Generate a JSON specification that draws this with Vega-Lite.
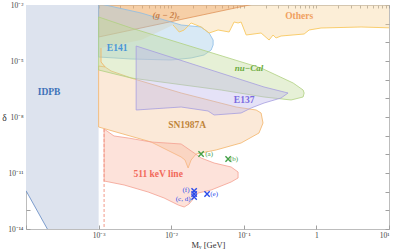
{
  "$schema": "https://vega.github.io/schema/vega-lite/v6.json",
  "width": 363,
  "height": 224,
  "autosize": {"type": "none"},
  "padding": {"left": 26, "top": 5, "right": 8, "bottom": 21},
  "background": "white",
  "config": {
    "view": {"stroke": "#bdbdbd", "strokeWidth": 1},
    "axis": {"domain": false, "grid": false, "labelFont": "Liberation Serif", "labelFontSize": 7.5, "labelColor": "#444444", "tickColor": "#a0a0a0", "titleFont": "Liberation Serif", "titleColor": "#333333", "titleFontWeight": "normal"}
  },
  "datasets": {
    "idpb": [
      {"i": 0, "M": 0.0001, "d": 0.015}, {"i": 1, "M": 0.001, "d": 0.015}, {"i": 2, "M": 0.001, "d": 1e-15},
      {"i": 3, "M": 0.000274, "d": 1e-15}, {"i": 4, "M": 0.0001, "d": 1.13e-12}, {"i": 5, "M": 0.0001, "d": 0.015}
    ],
    "regions": [
      {"region": "Others", "i": 0, "M": 0.001, "d": 0.015},
      {"region": "Others", "i": 1, "M": 12, "d": 0.015},
      {"region": "Others", "i": 2, "M": 12, "d": 5.86e-4},
      {"region": "Others", "i": 3, "M": 4.13, "d": 6.63e-4},
      {"region": "Others", "i": 4, "M": 1.16, "d": 5.86e-4},
      {"region": "Others", "i": 5, "M": 0.794, "d": 4.58e-4},
      {"region": "Others", "i": 6, "M": 0.678, "d": 2.79e-4},
      {"region": "Others", "i": 7, "M": 0.326, "d": 2.18e-4},
      {"region": "Others", "i": 8, "M": 0.278, "d": 1.71e-4},
      {"region": "Others", "i": 9, "M": 0.253, "d": 2.47e-4},
      {"region": "Others", "i": 10, "M": 0.223, "d": 1.33e-4},
      {"region": "Others", "i": 11, "M": 0.173, "d": 3.16e-4},
      {"region": "Others", "i": 12, "M": 0.108, "d": 2.47e-4},
      {"region": "Others", "i": 13, "M": 0.0918, "d": 1.23e-3},
      {"region": "Others", "i": 14, "M": 0.0834, "d": 1.09e-3},
      {"region": "Others", "i": 15, "M": 0.0735, "d": 1.23e-3},
      {"region": "Others", "i": 16, "M": 0.0628, "d": 3.58e-4},
      {"region": "Others", "i": 17, "M": 0.0442, "d": 4.58e-4},
      {"region": "Others", "i": 18, "M": 0.0333, "d": 3.16e-4},
      {"region": "Others", "i": 19, "M": 0.0258, "d": 6.63e-4},
      {"region": "Others", "i": 20, "M": 0.0188, "d": 1.09e-3},
      {"region": "Others", "i": 21, "M": 0.0151, "d": 4.58e-4},
      {"region": "Others", "i": 22, "M": 0.0129, "d": 3.58e-4},
      {"region": "Others", "i": 23, "M": 0.0106, "d": 8.49e-4},
      {"region": "Others", "i": 24, "M": 0.00385, "d": 1.33e-4},
      {"region": "Others", "i": 25, "M": 0.00108, "d": 4.97e-5},
      {"region": "Others", "i": 26, "M": 0.00108, "d": 8.83e-6},
      {"region": "Others", "i": 27, "M": 0.00123, "d": 4.77e-6},
      {"region": "Others", "i": 28, "M": 0.001, "d": 4.77e-6},
      {"region": "Others", "i": 29, "M": 0.001, "d": 0.015},

      {"region": "SN1987A", "i": 0, "M": 0.001, "d": 5.4e-6},
      {"region": "SN1987A", "i": 1, "M": 0.00123, "d": 4.77e-6},
      {"region": "SN1987A", "i": 2, "M": 0.00149, "d": 2.91e-6},
      {"region": "SN1987A", "i": 3, "M": 0.00308, "d": 1.09e-6},
      {"region": "SN1987A", "i": 4, "M": 0.0137, "d": 1.93e-7},
      {"region": "SN1987A", "i": 5, "M": 0.0783, "d": 3.43e-8},
      {"region": "SN1987A", "i": 6, "M": 0.148, "d": 2.37e-8},
      {"region": "SN1987A", "i": 7, "M": 0.173, "d": 1.64e-8},
      {"region": "SN1987A", "i": 8, "M": 0.184, "d": 4.77e-9},
      {"region": "SN1987A", "i": 9, "M": 0.162, "d": 1.39e-9},
      {"region": "SN1987A", "i": 10, "M": 0.0918, "d": 4.05e-10},
      {"region": "SN1987A", "i": 11, "M": 0.0415, "d": 1.71e-10},
      {"region": "SN1987A", "i": 12, "M": 0.022, "d": 1.04e-10},
      {"region": "SN1987A", "i": 13, "M": 0.0188, "d": 4.97e-11},
      {"region": "SN1987A", "i": 14, "M": 0.0171, "d": 1.85e-11},
      {"region": "SN1987A", "i": 15, "M": 0.0155, "d": 4.97e-11},
      {"region": "SN1987A", "i": 16, "M": 0.0137, "d": 7.2e-11},
      {"region": "SN1987A", "i": 17, "M": 0.00528, "d": 4.58e-10},
      {"region": "SN1987A", "i": 18, "M": 0.001, "d": 2.91e-9},
      {"region": "SN1987A", "i": 19, "M": 0.001, "d": 5.4e-6},

      {"region": "g2", "i": 0, "M": 0.001, "d": 1.93e-4},
      {"region": "g2", "i": 1, "M": 0.194, "d": 0.015},
      {"region": "g2", "i": 2, "M": 0.001, "d": 0.015},
      {"region": "g2", "i": 3, "M": 0.001, "d": 1.93e-4},

      {"region": "E141", "i": 0, "M": 0.001, "d": 0.012},
      {"region": "E141", "i": 1, "M": 0.00385, "d": 3.73e-3},
      {"region": "E141", "i": 2, "M": 0.0137, "d": 8.49e-4},
      {"region": "E141", "i": 3, "M": 0.0258, "d": 6.63e-4},
      {"region": "E141", "i": 4, "M": 0.0333, "d": 3.16e-4},
      {"region": "E141", "i": 5, "M": 0.0378, "d": 1.33e-4},
      {"region": "E141", "i": 6, "M": 0.0378, "d": 7.2e-5},
      {"region": "E141", "i": 7, "M": 0.0355, "d": 3.88e-5},
      {"region": "E141", "i": 8, "M": 0.0284, "d": 2.1e-5},
      {"region": "E141", "i": 9, "M": 0.0188, "d": 1.45e-5},
      {"region": "E141", "i": 10, "M": 0.00997, "d": 1.13e-5},
      {"region": "E141", "i": 11, "M": 0.0028, "d": 1.28e-5},
      {"region": "E141", "i": 12, "M": 0.001, "d": 1.64e-5},
      {"region": "E141", "i": 13, "M": 0.001, "d": 0.012},

      {"region": "nuCal", "i": 0, "M": 0.001, "d": 2.28e-3},
      {"region": "nuCal", "i": 1, "M": 0.0028, "d": 5.86e-4},
      {"region": "nuCal", "i": 2, "M": 0.173, "d": 4.22e-6},
      {"region": "nuCal", "i": 3, "M": 0.478, "d": 6.63e-7},
      {"region": "nuCal", "i": 4, "M": 0.656, "d": 2.79e-7},
      {"region": "nuCal", "i": 5, "M": 0.678, "d": 1.93e-7},
      {"region": "nuCal", "i": 6, "M": 0.656, "d": 1.18e-7},
      {"region": "nuCal", "i": 7, "M": 0.448, "d": 8.15e-8},
      {"region": "nuCal", "i": 8, "M": 0.19, "d": 1.18e-7},
      {"region": "nuCal", "i": 9, "M": 0.0487, "d": 2.79e-7},
      {"region": "nuCal", "i": 10, "M": 0.0028, "d": 1.23e-6},
      {"region": "nuCal", "i": 11, "M": 0.001, "d": 3.3e-6},
      {"region": "nuCal", "i": 12, "M": 0.001, "d": 2.28e-3},

      {"region": "E137", "i": 0, "M": 0.00329, "d": 6.36e-5},
      {"region": "E137", "i": 1, "M": 0.19, "d": 4.05e-7},
      {"region": "E137", "i": 2, "M": 0.407, "d": 1.93e-7},
      {"region": "E137", "i": 3, "M": 0.326, "d": 1.04e-7},
      {"region": "E137", "i": 4, "M": 0.19, "d": 5.62e-8},
      {"region": "E137", "i": 5, "M": 0.126, "d": 3.03e-8},
      {"region": "E137", "i": 6, "M": 0.0918, "d": 1.64e-8},
      {"region": "E137", "i": 7, "M": 0.039, "d": 1.28e-8},
      {"region": "E137", "i": 8, "M": 0.0322, "d": 2.1e-8},
      {"region": "E137", "i": 9, "M": 0.0137, "d": 3.43e-8},
      {"region": "E137", "i": 10, "M": 0.00329, "d": 2.37e-8},
      {"region": "E137", "i": 11, "M": 0.00329, "d": 6.36e-5},

      {"region": "keV511", "i": 0, "M": 0.00119, "d": 2.28e-9},
      {"region": "keV511", "i": 1, "M": 0.00163, "d": 9.6e-10},
      {"region": "keV511", "i": 2, "M": 0.00255, "d": 7.5e-10},
      {"region": "keV511", "i": 3, "M": 0.00528, "d": 4.58e-10},
      {"region": "keV511", "i": 4, "M": 0.0137, "d": 3.58e-10},
      {"region": "keV511", "i": 5, "M": 0.0207, "d": 1.18e-10},
      {"region": "keV511", "i": 6, "M": 0.0258, "d": 6.37e-11},
      {"region": "keV511", "i": 7, "M": 0.039, "d": 3.43e-11},
      {"region": "keV511", "i": 8, "M": 0.0669, "d": 2.1e-11},
      {"region": "keV511", "i": 9, "M": 0.0834, "d": 1.13e-11},
      {"region": "keV511", "i": 10, "M": 0.0834, "d": 5.4e-12},
      {"region": "keV511", "i": 11, "M": 0.0669, "d": 3.3e-12},
      {"region": "keV511", "i": 12, "M": 0.0355, "d": 1.23e-12},
      {"region": "keV511", "i": 13, "M": 0.0235, "d": 8.49e-13},
      {"region": "keV511", "i": 14, "M": 0.0176, "d": 2.18e-13},
      {"region": "keV511", "i": 15, "M": 0.0151, "d": 1.51e-13},
      {"region": "keV511", "i": 16, "M": 0.0125, "d": 1.93e-13},
      {"region": "keV511", "i": 17, "M": 0.00798, "d": 4.58e-13},
      {"region": "keV511", "i": 18, "M": 0.00481, "d": 9.6e-13},
      {"region": "keV511", "i": 19, "M": 0.00225, "d": 2.28e-12},
      {"region": "keV511", "i": 20, "M": 0.00119, "d": 3.73e-12},
      {"region": "keV511", "i": 21, "M": 0.00119, "d": 2.28e-9}
    ],
    "edges": [
      {"edge": "Others", "i": 0, "M": 0.0106, "d": 8.49e-4},
      {"edge": "Others", "i": 1, "M": 0.0129, "d": 3.58e-4},
      {"edge": "Others", "i": 2, "M": 0.0151, "d": 4.58e-4},
      {"edge": "Others", "i": 3, "M": 0.0188, "d": 1.09e-3},
      {"edge": "Others", "i": 4, "M": 0.0258, "d": 6.63e-4},
      {"edge": "Others", "i": 5, "M": 0.0333, "d": 3.16e-4},
      {"edge": "Others", "i": 6, "M": 0.0442, "d": 4.58e-4},
      {"edge": "Others", "i": 7, "M": 0.0628, "d": 3.58e-4},
      {"edge": "Others", "i": 8, "M": 0.0735, "d": 1.23e-3},
      {"edge": "Others", "i": 9, "M": 0.0834, "d": 1.09e-3},
      {"edge": "Others", "i": 10, "M": 0.0918, "d": 1.23e-3},
      {"edge": "Others", "i": 11, "M": 0.108, "d": 2.47e-4},
      {"edge": "Others", "i": 12, "M": 0.173, "d": 3.16e-4},
      {"edge": "Others", "i": 13, "M": 0.223, "d": 1.33e-4},
      {"edge": "Others", "i": 14, "M": 0.253, "d": 2.47e-4},
      {"edge": "Others", "i": 15, "M": 0.278, "d": 1.71e-4},
      {"edge": "Others", "i": 16, "M": 0.326, "d": 2.18e-4},
      {"edge": "Others", "i": 17, "M": 0.678, "d": 2.79e-4},
      {"edge": "Others", "i": 18, "M": 0.794, "d": 4.58e-4},
      {"edge": "Others", "i": 19, "M": 1.16, "d": 5.86e-4},
      {"edge": "Others", "i": 20, "M": 4.13, "d": 6.63e-4},
      {"edge": "Others", "i": 21, "M": 12, "d": 5.86e-4},
      {"edge": "OthersLeft", "i": 0, "M": 0.00108, "d": 4.97e-5},
      {"edge": "OthersLeft", "i": 1, "M": 0.00108, "d": 8.83e-6},
      {"edge": "OthersLeft", "i": 2, "M": 0.00123, "d": 4.77e-6},
      {"edge": "IDPB", "i": 0, "M": 0.0001, "d": 1.13e-12},
      {"edge": "IDPB", "i": 1, "M": 0.000274, "d": 1e-15}
    ],
    "dashline": [{"M": 0.00119, "d1": 2.28e-9, "d2": 1e-14}],
    "labels": [
      {"label": "IDPB", "M": 0.000208, "d": 2.18e-7},
      {"label": "E141", "M": 0.0018, "d": 4.97e-5},
      {"label": "Others", "M": 0.578, "d": 2.58e-3},
      {"label": "E137", "M": 0.101, "d": 8.15e-8},
      {"label": "SN1987A", "M": 0.0166, "d": 3.73e-9},
      {"label": "511 keV line", "M": 0.00661, "d": 8.83e-12}
    ],
    "italic": [
      {"label": "(g − 2)ₑ", "M": 0.00851, "d": 2.91e-3},
      {"label": "nu−Cal", "M": 0.118, "d": 4.22e-6}
    ],
    "points": [
      {"set": "ab", "M": 0.0258, "d": 1.04e-10},
      {"set": "ab", "M": 0.0608, "d": 5.62e-11},
      {"set": "cf", "M": 0.0207, "d": 1.09e-12},
      {"set": "cf", "M": 0.0207, "d": 7.5e-13},
      {"set": "cf", "M": 0.0207, "d": 5.18e-13},
      {"set": "cf", "M": 0.0312, "d": 7.5e-13}
    ],
    "pointlabels": [
      {"set": "ab", "label": "(a)", "M": 0.0333, "d": 1.04e-10},
      {"set": "ab", "label": "(b)", "M": 0.0735, "d": 5.62e-11},
      {"set": "cf", "label": "(e)", "M": 0.039, "d": 7.5e-13},
      {"set": "cf", "label": "(f)", "M": 0.016, "d": 1.23e-12},
      {"set": "cf", "label": "(c, d)", "M": 0.0146, "d": 4.05e-13}
    ]
  },
  "layer": [
    {
      "data": {"name": "idpb"},
      "mark": {"type": "line", "fill": "#dde3ee", "stroke": null, "strokeWidth": 0, "clip": true},
      "encoding": {
        "x": {"field": "M", "type": "quantitative", "scale": {"type": "log", "domain": [0.0001, 10], "nice": false},
          "axis": {"orient": "bottom", "values": [0.0001, 0.001, 0.01, 0.1, 1, 10], "tickSize": -4, "labelPadding": 6,
            "labelExpr": "datum.value < 0.0002 ? '' : datum.value < 0.002 ? '10⁻³' : datum.value < 0.02 ? '10⁻²' : datum.value < 0.2 ? '10⁻¹' : datum.value < 2 ? '1' : '10¹'",
            "title": "Mᵥ [GeV]", "titleFontSize": 8.5, "titleX": 182, "titleY": 15, "titleBaseline": "middle", "titleAlign": "center"}},
        "y": {"field": "d", "type": "quantitative", "scale": {"type": "log", "domain": [1e-14, 0.01], "nice": false},
          "axis": {"orient": "left", "values": [1e-14, 1e-13, 1e-12, 1e-11, 1e-10, 1e-9, 1e-8, 1e-7, 1e-6, 1e-5, 1e-4, 1e-3, 1e-2], "tickSize": -4, "labelPadding": 7,
            "labelExpr": "round(log(datum.value)/LN10) == -2 ? '10⁻²' : round(log(datum.value)/LN10) == -5 ? '10⁻⁵' : round(log(datum.value)/LN10) == -8 ? '10⁻⁸' : round(log(datum.value)/LN10) == -11 ? '10⁻¹¹' : round(log(datum.value)/LN10) == -14 ? '10⁻¹⁴' : ''",
            "title": "δ", "titleFontSize": 9.5, "titleAngle": 0, "titleX": -22, "titleY": 112, "titleAlign": "center", "titleBaseline": "middle"}},
        "order": {"field": "i", "type": "quantitative"}
      }
    },
    {
      "data": {"name": "regions"},
      "mark": {"type": "line", "strokeWidth": 0.8, "fillOpacity": 0.4, "clip": true},
      "encoding": {
        "x": {"field": "M", "type": "quantitative", "scale": {"type": "log", "domain": [0.0001, 10], "nice": false},
          "axis": {"orient": "top", "labels": false, "title": null, "tickSize": -3,
            "values": [0.0001, 0.0002, 0.0003, 0.0004, 0.0005, 0.0006, 0.0007, 0.0008, 0.0009, 0.001, 0.002, 0.003, 0.004, 0.005, 0.006, 0.007, 0.008, 0.009, 0.01, 0.02, 0.03, 0.04, 0.05, 0.06, 0.07, 0.08, 0.09, 0.1, 0.2, 0.3, 0.4, 0.5, 0.6, 0.7, 0.8, 0.9, 1, 2, 3, 4, 5, 6, 7, 8, 9, 10]}},
        "y": {"field": "d", "type": "quantitative", "scale": {"type": "log", "domain": [1e-14, 0.01], "nice": false},
          "axis": {"orient": "right", "labels": false, "title": null, "tickSize": -4,
            "values": [1e-14, 1e-13, 1e-12, 1e-11, 1e-10, 1e-9, 1e-8, 1e-7, 1e-6, 1e-5, 1e-4, 1e-3, 1e-2]}},
        "order": {"field": "i", "type": "quantitative"},
        "stroke": {"field": "region", "type": "nominal", "legend": null,
          "scale": {"domain": ["Others", "SN1987A", "g2", "E141", "nuCal", "E137", "keV511"],
            "range": ["transparent", "#f2b468", "#e0945a", "#8cbde6", "#b0d080", "#a69ee0", "#f4a090"]}},
        "fill": {"field": "region", "type": "nominal", "legend": null,
          "scale": {"domain": ["Others", "SN1987A", "g2", "E141", "nuCal", "E137", "keV511"],
            "range": ["#f8d49a", "#f5c89e", "#eea060", "#9dc8e6", "#c0d998", "#bdb6ea", "#fab6a2"]}}
      }
    },
    {
      "data": {"name": "edges"},
      "mark": {"type": "line", "strokeWidth": 0.9, "clip": true},
      "encoding": {
        "x": {"field": "M", "type": "quantitative", "scale": {"type": "log", "domain": [0.0001, 10], "nice": false}, "axis": null},
        "y": {"field": "d", "type": "quantitative", "scale": {"type": "log", "domain": [1e-14, 0.01], "nice": false}, "axis": null},
        "order": {"field": "i", "type": "quantitative"},
        "stroke": {"field": "edge", "type": "nominal", "legend": null,
          "scale": {"domain": ["Others", "OthersLeft", "IDPB"], "range": ["#f8c860", "#f0b468", "#6f93c8"]}}
      }
    },
    {
      "data": {"name": "dashline"},
      "mark": {"type": "rule", "stroke": "#f29a88", "strokeWidth": 1, "strokeDash": [3, 2]},
      "encoding": {
        "x": {"field": "M", "type": "quantitative", "scale": {"type": "log", "domain": [0.0001, 10], "nice": false}, "axis": null},
        "y": {"field": "d1", "type": "quantitative", "scale": {"type": "log", "domain": [1e-14, 0.01], "nice": false}, "axis": null},
        "y2": {"field": "d2"}
      }
    },
    {
      "data": {"name": "points"},
      "mark": {"type": "point", "shape": "M-1,-1L1,1M-1,1L1,-1", "size": 28, "strokeWidth": 1.4, "filled": false, "opacity": 1},
      "encoding": {
        "x": {"field": "M", "type": "quantitative", "scale": {"type": "log", "domain": [0.0001, 10], "nice": false}, "axis": null},
        "y": {"field": "d", "type": "quantitative", "scale": {"type": "log", "domain": [1e-14, 0.01], "nice": false}, "axis": null},
        "color": {"field": "set", "type": "nominal", "legend": null, "scale": {"domain": ["ab", "cf"], "range": ["#43a047", "#2a4bea"]}}
      }
    },
    {
      "data": {"name": "pointlabels"},
      "mark": {"type": "text", "font": "Liberation Serif", "fontSize": 7, "align": "center", "baseline": "middle"},
      "encoding": {
        "x": {"field": "M", "type": "quantitative", "scale": {"type": "log", "domain": [0.0001, 10], "nice": false}, "axis": null},
        "y": {"field": "d", "type": "quantitative", "scale": {"type": "log", "domain": [1e-14, 0.01], "nice": false}, "axis": null},
        "text": {"field": "label"},
        "color": {"field": "set", "type": "nominal", "legend": null, "scale": {"domain": ["ab", "cf"], "range": ["#43a047", "#2a4bea"]}}
      }
    },
    {
      "data": {"name": "labels"},
      "mark": {"type": "text", "font": "Liberation Serif", "fontWeight": "bold", "fontSize": 9.5, "align": "center", "baseline": "middle"},
      "encoding": {
        "x": {"field": "M", "type": "quantitative", "scale": {"type": "log", "domain": [0.0001, 10], "nice": false}, "axis": null},
        "y": {"field": "d", "type": "quantitative", "scale": {"type": "log", "domain": [1e-14, 0.01], "nice": false}, "axis": null},
        "text": {"field": "label"},
        "color": {"field": "label", "type": "nominal", "legend": null,
          "scale": {"domain": ["IDPB", "E141", "Others", "E137", "SN1987A", "511 keV line"],
            "range": ["#3d72b8", "#4a95d6", "#f0a060", "#7a6ae0", "#c0853a", "#f26a5a"]}}
      }
    },
    {
      "data": {"name": "italic"},
      "mark": {"type": "text", "font": "Liberation Serif", "fontStyle": "italic", "fontWeight": "bold", "fontSize": 9, "align": "center", "baseline": "middle"},
      "encoding": {
        "x": {"field": "M", "type": "quantitative", "scale": {"type": "log", "domain": [0.0001, 10], "nice": false}, "axis": null},
        "y": {"field": "d", "type": "quantitative", "scale": {"type": "log", "domain": [1e-14, 0.01], "nice": false}, "axis": null},
        "text": {"field": "label"},
        "color": {"field": "label", "type": "nominal", "legend": null,
          "scale": {"domain": ["(g − 2)ₑ", "nu−Cal"], "range": ["#c8804a", "#6aaa3a"]}}
      }
    }
  ],
  "resolve": {
    "axis": {"x": "independent", "y": "independent"},
    "scale": {"color": "independent", "stroke": "independent", "fill": "independent"}
  }
}
